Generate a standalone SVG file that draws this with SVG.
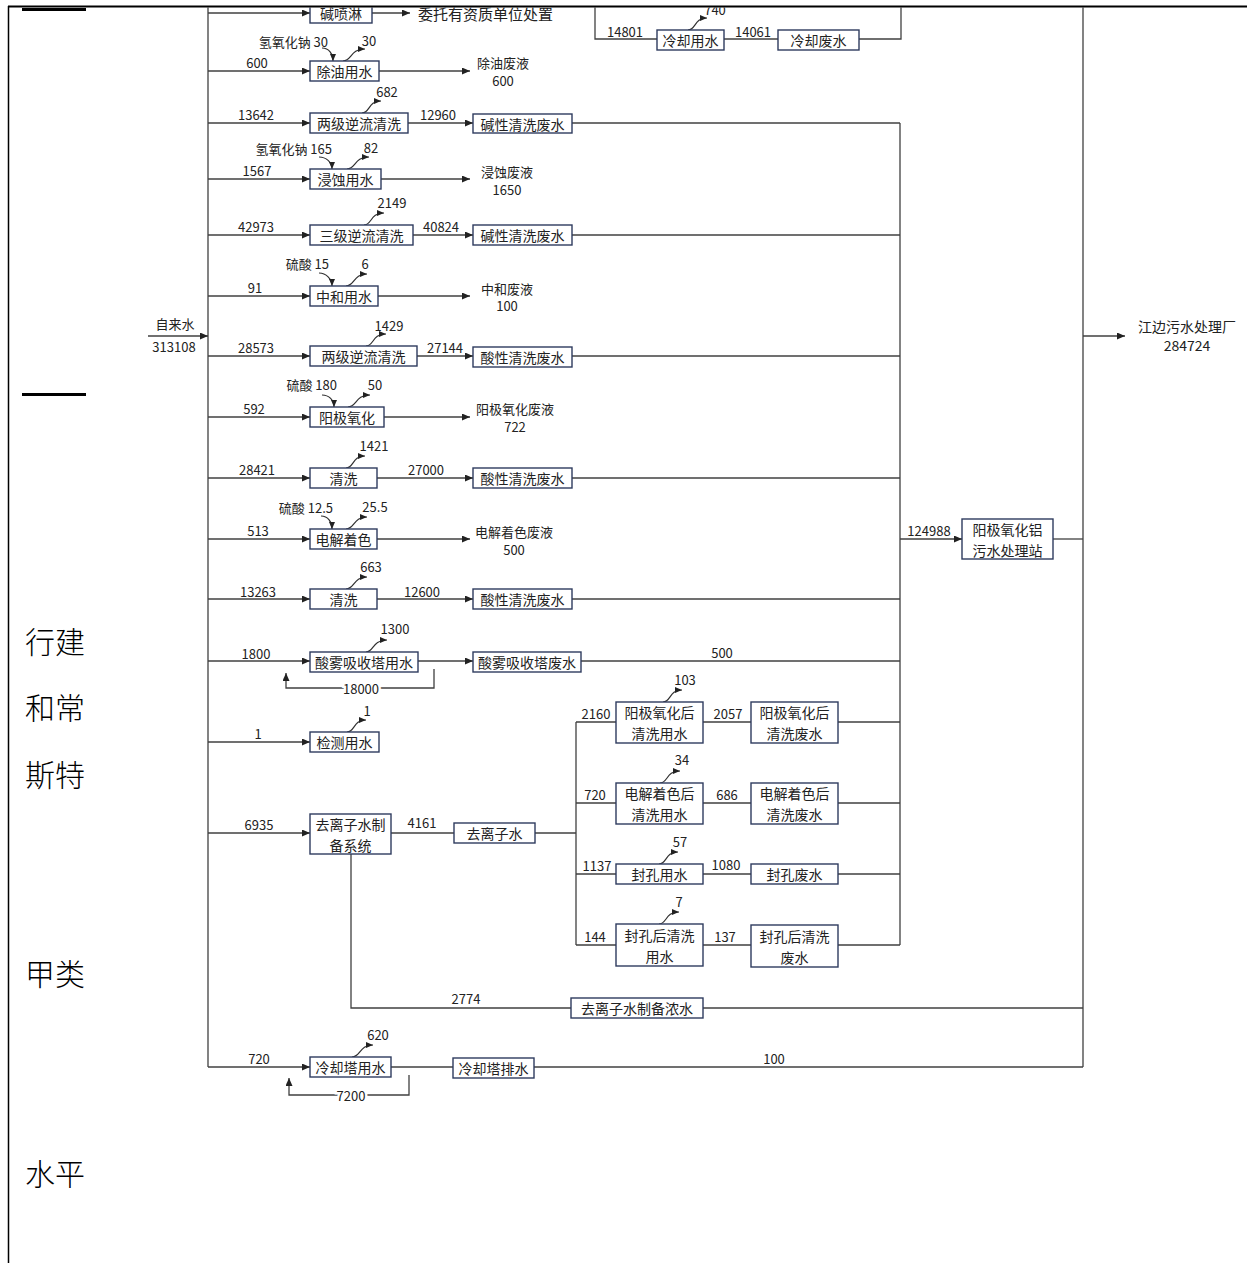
<svg xmlns="http://www.w3.org/2000/svg" width="1247" height="1263" viewBox="0 0 1247 1263">
<defs>
<style>
.l{fill:none;stroke:#404040;stroke-width:1.3}
.a{marker-end:url(#ar)}
.c{fill:none;stroke:#303030;stroke-width:1.2;marker-end:url(#ac)}
.b rect{fill:#fff;stroke:#2e3b5e;stroke-width:1.4}
text{font-family:"Noto Sans CJK SC","Noto Sans",sans-serif;fill:#222;dominant-baseline:central;text-anchor:middle;font-size:13px}
.t{font-size:14px}
.e{text-anchor:end}
.st{text-anchor:start}
.s{font-size:30px;fill:#000;text-anchor:start;font-weight:300}
.w{stroke:#fff;stroke-width:5;paint-order:stroke}
</style>
<marker id="ar" markerUnits="userSpaceOnUse" markerWidth="8" markerHeight="7" refX="8" refY="3.5" orient="auto"><path d="M0,0 L8,3.5 L0,7 z" fill="#222"/></marker>
<marker id="ac" markerUnits="userSpaceOnUse" markerWidth="7" markerHeight="6" refX="7" refY="3" orient="auto"><path d="M0,0 L7,3 L0,6 z" fill="#222"/></marker>
<clipPath id="clip"><rect x="9" y="7.5" width="1238" height="1256"/></clipPath>
</defs>
<rect width="1247" height="1263" fill="#fff"/>
<g clip-path="url(#clip)">
<g id="connectors">
<path class="l" d="M208,0 V1067"/>
<path class="l a" d="M148,336 H208"/>
<path class="l a" d="M208,13 H310"/>
<path class="l a" d="M372,13 H410"/>
<path class="l a" d="M208,71 H310"/>
<path class="l a" d="M379,71 H470"/>
<path class="l a" d="M208,123 H310"/>
<path class="l a" d="M408,123 H473"/>
<path class="l" d="M572,123 H900"/>
<path class="l a" d="M208,179 H310"/>
<path class="l a" d="M381,179 H470"/>
<path class="l a" d="M208,235 H310"/>
<path class="l a" d="M413,235 H473"/>
<path class="l" d="M572,235 H900"/>
<path class="l a" d="M208,296 H310"/>
<path class="l a" d="M378,296 H470"/>
<path class="l a" d="M208,356 H310"/>
<path class="l a" d="M417,356 H473"/>
<path class="l" d="M572,356 H900"/>
<path class="l a" d="M208,417 H310"/>
<path class="l a" d="M384,417 H470"/>
<path class="l a" d="M208,478 H310"/>
<path class="l a" d="M377,478 H473"/>
<path class="l" d="M572,478 H900"/>
<path class="l a" d="M208,539 H310"/>
<path class="l a" d="M377,539 H470"/>
<path class="l a" d="M208,599 H310"/>
<path class="l a" d="M377,599 H473"/>
<path class="l" d="M572,599 H900"/>
<path class="l a" d="M208,661 H310"/>
<path class="l a" d="M418,661 H473"/>
<path class="l" d="M581,661 H900"/>
<path class="l a" d="M434,669 V688 H286 V673"/>
<path class="l a" d="M208,742 H310"/>
<path class="l a" d="M208,833 H310"/>
<path class="l" d="M391,833 H454"/>
<path class="l" d="M535,833 H576"/>
<path class="l" d="M576,722 V945"/>
<path class="l" d="M576,722 H616 M703,722 H751 M838,722 H900"/>
<path class="l" d="M576,803 H616 M703,803 H751 M838,803 H900"/>
<path class="l" d="M576,874 H616 M703,874 H751 M838,874 H900"/>
<path class="l" d="M576,945 H616 M703,945 H751 M838,945 H900"/>
<path class="l" d="M900,123 V945"/>
<path class="l a" d="M900,539 H962"/>
<path class="l" d="M1053,539 H1083"/>
<path class="l" d="M351,854 V1008 H571"/>
<path class="l" d="M703,1008 H1083"/>
<path class="l a" d="M208,1067 H310"/>
<path class="l" d="M391,1067 H453"/>
<path class="l" d="M534,1067 H1083"/>
<path class="l a" d="M409,1075 V1095 H289 V1078"/>
<path class="l" d="M1083,0 V1067"/>
<path class="l a" d="M1083,336 H1125"/>
<path class="l" d="M595,0 V39 H657"/>
<path class="l" d="M724,39 H778"/>
<path class="l" d="M859,39 H901 V0"/>
<path class="c" d="M322,48 C329,48 333,54 333,61"/>
<path class="c" d="M343,61 C352,61 350,49 365,49"/>
<path class="c" d="M362,113 C370,113 368,101 381,101"/>
<path class="c" d="M319,157 C326,157 332,162 332,169"/>
<path class="c" d="M347,169 C356,169 354,157 369,157"/>
<path class="c" d="M364,225 C372,225 370,213 384,213"/>
<path class="c" d="M319,273 C326,273 332,279 332,286"/>
<path class="c" d="M346,286 C355,286 353,274 367,274"/>
<path class="c" d="M366,346 C374,346 372,334 386,334"/>
<path class="c" d="M322,395 C329,395 334,400 334,407"/>
<path class="c" d="M348,407 C357,407 355,395 370,395"/>
<path class="c" d="M346,468 C354,468 352,456 365,456"/>
<path class="c" d="M321,516 C328,516 332,522 332,529"/>
<path class="c" d="M346,529 C355,529 353,517 367,517"/>
<path class="c" d="M346,589 C355,589 353,577 367,577"/>
<path class="c" d="M366,652 C374,652 372,640 387,640"/>
<path class="c" d="M347,732 C355,732 353,720 366,720"/>
<path class="c" d="M663,702 C671,702 669,690 682,690"/>
<path class="c" d="M660,783 C668,783 666,771 680,771"/>
<path class="c" d="M659,864 C667,864 665,852 678,852"/>
<path class="c" d="M659,924 C667,924 665,912 679,912"/>
<path class="c" d="M352,1057 C361,1057 359,1045 373,1045"/>
<path class="c" d="M688,30 C696,30 694,18 707,18"/>
</g>
<g id="nodes">
<g id="n-jpl" class="b"><rect x="310" y="3" width="62" height="20"/><text class="t" x="341" y="13">碱喷淋</text></g>
<g id="n-cy" class="b"><rect x="310" y="61" width="69" height="20"/><text class="t" x="344.5" y="71">除油用水</text></g>
<g id="n-ljnl1" class="b"><rect x="310" y="113" width="98" height="20"/><text class="t" x="359" y="123">两级逆流清洗</text></g>
<g id="n-jxfs1" class="b"><rect x="473" y="114" width="99" height="19"/><text class="t" x="522.5" y="123.5">碱性清洗废水</text></g>
<g id="n-js" class="b"><rect x="310" y="169" width="71" height="20"/><text class="t" x="345.5" y="179">浸蚀用水</text></g>
<g id="n-sjnl" class="b"><rect x="310" y="225" width="103" height="20"/><text class="t" x="361.5" y="235">三级逆流清洗</text></g>
<g id="n-jxfs2" class="b"><rect x="473" y="225" width="99" height="20"/><text class="t" x="522.5" y="235">碱性清洗废水</text></g>
<g id="n-zh" class="b"><rect x="310" y="286" width="68" height="20"/><text class="t" x="344" y="296">中和用水</text></g>
<g id="n-ljnl2" class="b"><rect x="310" y="346" width="107" height="20"/><text class="t" x="363.5" y="356">两级逆流清洗</text></g>
<g id="n-sxfs1" class="b"><rect x="473" y="347" width="99" height="20"/><text class="t" x="522.5" y="357">酸性清洗废水</text></g>
<g id="n-yjyh" class="b"><rect x="310" y="407" width="74" height="20"/><text class="t" x="347" y="417">阳极氧化</text></g>
<g id="n-qx1" class="b"><rect x="310" y="468" width="67" height="20"/><text class="t" x="343.5" y="478">清洗</text></g>
<g id="n-sxfs2" class="b"><rect x="473" y="468" width="99" height="20"/><text class="t" x="522.5" y="478">酸性清洗废水</text></g>
<g id="n-djzs" class="b"><rect x="310" y="529" width="67" height="20"/><text class="t" x="343.5" y="539">电解着色</text></g>
<g id="n-qx2" class="b"><rect x="310" y="589" width="67" height="20"/><text class="t" x="343.5" y="599">清洗</text></g>
<g id="n-sxfs3" class="b"><rect x="473" y="589" width="99" height="20"/><text class="t" x="522.5" y="599">酸性清洗废水</text></g>
<g id="n-swxs" class="b"><rect x="310" y="652" width="108" height="20"/><text class="t" x="364" y="662">酸雾吸收塔用水</text></g>
<g id="n-swfs" class="b"><rect x="473" y="652" width="108" height="20"/><text class="t" x="527" y="662">酸雾吸收塔废水</text></g>
<g id="n-jc" class="b"><rect x="310" y="732" width="69" height="20"/><text class="t" x="344.5" y="742">检测用水</text></g>
<g id="n-qlzxt" class="b"><rect x="310" y="814" width="81" height="40"/><text class="t" x="350.5" y="824">去离子水制</text><text class="t" x="350.5" y="845">备系统</text></g>
<g id="n-qlz" class="b"><rect x="454" y="823" width="81" height="20"/><text class="t" x="494.5" y="833">去离子水</text></g>
<g id="n-yhqx" class="b"><rect x="616" y="702" width="87" height="41"/><text class="t" x="659.5" y="712">阳极氧化后</text><text class="t" x="659.5" y="733">清洗用水</text></g>
<g id="n-yhfs" class="b"><rect x="751" y="702" width="87" height="41"/><text class="t" x="794.5" y="712">阳极氧化后</text><text class="t" x="794.5" y="733">清洗废水</text></g>
<g id="n-zsqx" class="b"><rect x="616" y="783" width="87" height="41"/><text class="t" x="659.5" y="793">电解着色后</text><text class="t" x="659.5" y="814">清洗用水</text></g>
<g id="n-zsfs" class="b"><rect x="751" y="783" width="87" height="41"/><text class="t" x="794.5" y="793">电解着色后</text><text class="t" x="794.5" y="814">清洗废水</text></g>
<g id="n-fk" class="b"><rect x="616" y="864" width="87" height="20"/><text class="t" x="659.5" y="874">封孔用水</text></g>
<g id="n-fkfs" class="b"><rect x="751" y="864" width="87" height="20"/><text class="t" x="794.5" y="874">封孔废水</text></g>
<g id="n-fkqx" class="b"><rect x="616" y="924" width="87" height="42"/><text class="t" x="659.5" y="935">封孔后清洗</text><text class="t" x="659.5" y="956">用水</text></g>
<g id="n-fkqxfs" class="b"><rect x="751" y="925" width="87" height="42"/><text class="t" x="794.5" y="936">封孔后清洗</text><text class="t" x="794.5" y="957">废水</text></g>
<g id="n-wsz" class="b"><rect x="962" y="519" width="91" height="40"/><text class="t" x="1007.5" y="529">阳极氧化铝</text><text class="t" x="1007.5" y="550">污水处理站</text></g>
<g id="n-nsh" class="b"><rect x="571" y="998" width="132" height="20"/><text class="t" x="637" y="1008">去离子水制备浓水</text></g>
<g id="n-lqt" class="b"><rect x="310" y="1057" width="81" height="20"/><text class="t" x="350.5" y="1067">冷却塔用水</text></g>
<g id="n-lqpx" class="b"><rect x="453" y="1058" width="81" height="20"/><text class="t" x="493.5" y="1068">冷却塔排水</text></g>
<g id="n-lqys" class="b"><rect x="657" y="30" width="67" height="20"/><text class="t" x="690.5" y="40">冷却用水</text></g>
<g id="n-lqfs" class="b"><rect x="778" y="30" width="81" height="20"/><text class="t" x="818.5" y="40">冷却废水</text></g>
</g>
<g id="labels">
<text x="175" y="323">自来水</text>
<text x="174" y="346">313108</text>
<text class="st" x="418" y="13" style="font-size:15px">委托有资质单位处置</text>
<text x="257" y="62">600</text>
<text class="e" x="328" y="41">氢氧化钠 30</text>
<text x="369" y="40">30</text>
<text x="503" y="62">除油废液</text>
<text x="503" y="80">600</text>
<text x="256" y="114">13642</text>
<text x="387" y="91">682</text>
<text x="438" y="114">12960</text>
<text x="257" y="170">1567</text>
<text class="e" x="332" y="148">氢氧化钠 165</text>
<text x="371" y="147">82</text>
<text x="507" y="171">浸蚀废液</text>
<text x="507" y="189">1650</text>
<text x="256" y="226">42973</text>
<text x="392" y="202">2149</text>
<text x="441" y="226">40824</text>
<text x="255" y="287">91</text>
<text class="e" x="329" y="263">硫酸 15</text>
<text x="365" y="263">6</text>
<text x="507" y="288">中和废液</text>
<text x="507" y="305">100</text>
<text x="256" y="347">28573</text>
<text x="389" y="325">1429</text>
<text x="445" y="347">27144</text>
<text x="254" y="408">592</text>
<text class="e" x="337" y="384">硫酸 180</text>
<text x="375" y="384">50</text>
<text x="515" y="408">阳极氧化废液</text>
<text x="515" y="426">722</text>
<text x="257" y="469">28421</text>
<text x="374" y="445">1421</text>
<text x="426" y="469">27000</text>
<text x="258" y="530">513</text>
<text class="e" x="333" y="507">硫酸 12.5</text>
<text x="375" y="506">25.5</text>
<text x="514" y="531">电解着色废液</text>
<text x="514" y="549">500</text>
<text x="258" y="591">13263</text>
<text x="371" y="566">663</text>
<text x="422" y="591">12600</text>
<text x="256" y="653">1800</text>
<text x="395" y="628">1300</text>
<text x="722" y="652">500</text>
<text class="w" x="361" y="688">18000</text>
<text x="258" y="733">1</text>
<text x="367" y="710">1</text>
<text x="259" y="824">6935</text>
<text x="422" y="822">4161</text>
<text x="596" y="713">2160</text>
<text x="685" y="679">103</text>
<text x="728" y="713">2057</text>
<text x="595" y="794">720</text>
<text x="682" y="759">34</text>
<text x="727" y="794">686</text>
<text x="597" y="865">1137</text>
<text x="680" y="841">57</text>
<text x="726" y="864">1080</text>
<text x="595" y="936">144</text>
<text x="679" y="901">7</text>
<text x="725" y="936">137</text>
<text x="929" y="530">124988</text>
<text x="1187" y="326" style="font-size:14px">江边污水处理厂</text>
<text x="1187" y="345" style="font-size:14px">284724</text>
<text x="466" y="998">2774</text>
<text x="259" y="1058">720</text>
<text x="378" y="1034">620</text>
<text x="774" y="1058">100</text>
<text class="w" x="351" y="1095">7200</text>
<text x="625" y="31">14801</text>
<text x="753" y="31">14061</text>
<text x="715" y="9">740</text>
</g>
</g>
<g id="page">
<path d="M8.5,6 V1263" stroke="#000" stroke-width="1.5" fill="none"/>
<path d="M8,6.5 H1247" stroke="#000" stroke-width="2" fill="none"/>
<rect x="22" y="8" width="64" height="3" fill="#000"/>
<rect x="22" y="393" width="64" height="3" fill="#000"/>
<text class="s" x="25" y="640">行建</text>
<text class="s" x="25" y="706">和常</text>
<text class="s" x="25" y="773">斯特</text>
<text class="s" x="25" y="972">甲类</text>
<text class="s" x="25" y="1172">水平</text>
</g>
</svg>
